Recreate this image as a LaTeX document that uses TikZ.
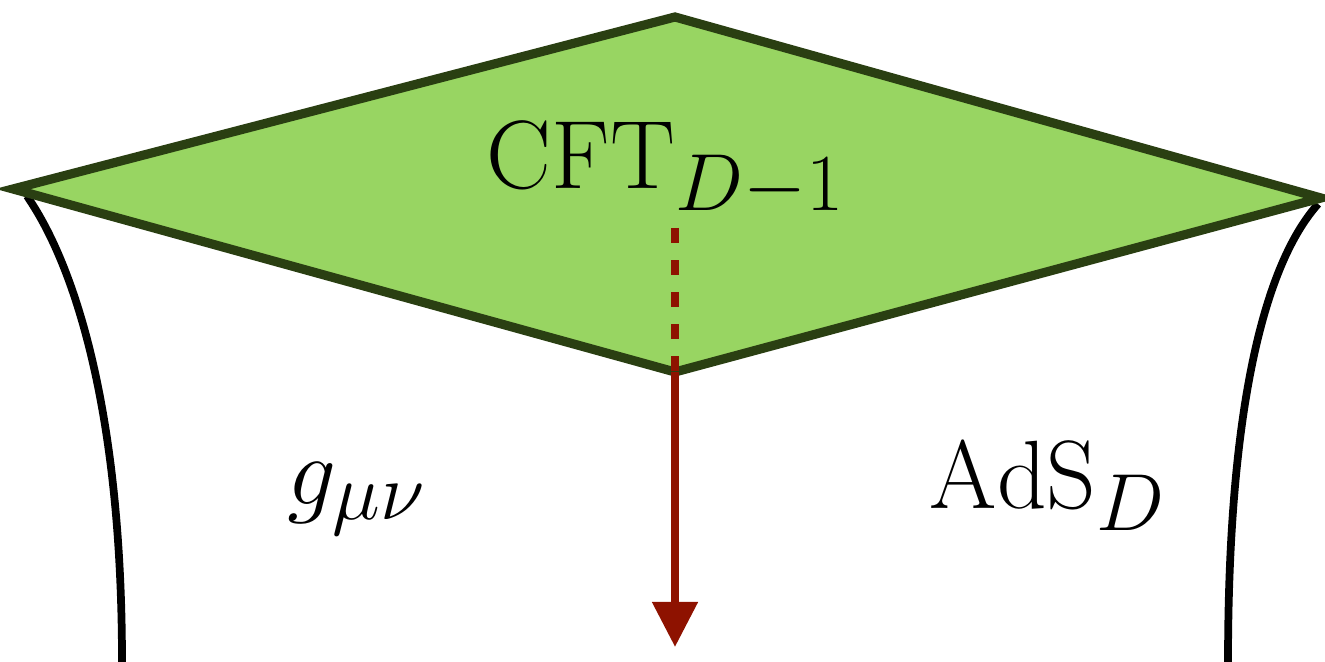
\documentclass[tikz,border=0pt]{standalone}
\usepackage{amsmath,amssymb}
\usepackage{tikz}
\usepackage{xcolor}
\usetikzlibrary{arrows.meta,calc}
\definecolor{BoundaryGreen}{HTML}{98D562}
\definecolor{BoundaryEdge}{HTML}{2A3F12}
\definecolor{FlowRed}{HTML}{8E1200}
\tikzset{
    % Boundary sheet style
    boundarysheet/.style={
        fill=BoundaryGreen,
        draw=BoundaryEdge,
        line width=2.6pt,
        line join=miter
    },
    % Bulk wall style
    bulkwall/.style={
        draw=black,
        line width=2.2pt
    },
    % Radial flow arrow
    flowarrow/.style={
        -{Triangle[length=0.45cm,width=0.44cm]},
        line width=2.3pt,
        draw=FlowRed,
        color=FlowRed
    },
    % Hidden part of the flow
    flowdash/.style={
        line width=2.3pt,
        draw=FlowRed,
        dash pattern=on 0.15cm off 0.17cm
    },
    % Labels
    biglabel/.style={
        font=\fontsize{24.88}{30}\selectfont,
        scale=1.11, transform shape,
        anchor=base,
        inner sep=0pt
    }
}
\begin{document}
\begin{tikzpicture}[x={(0.01cm,0)}, y={(0,-0.01cm)}]
        \useasboundingbox (0,0) rectangle (1325,662);

        % Corners of the boundary
        \coordinate (top) at (675,17);
        \coordinate (left) at (13,189);
        \coordinate (right) at (1321,198);
        \coordinate (bottom) at (675,372);
        \coordinate (tip) at (675,647);

        % Bulk walls
        \draw[bulkwall] (27,196) .. controls (40,216) and (122,330) .. (122,662);
        \draw[bulkwall] (1318,204) .. controls (1290,236) and (1228,330) .. (1228,662);

        % Boundary sheet
        \draw[boundarysheet] (top) -- (right) -- (bottom) -- (left) -- cycle;

        % Labels
        \node[biglabel] (cft) at (666,189) {$\mathrm{CFT}_{D-1}$};
        \node[biglabel] (metric) at (357,505) {$g_{\mu\nu}$};
        \node[biglabel] (ads) at (1048,509) {$\mathrm{AdS}_D$};

        % Radial direction
        \coordinate (dashstart) at (675,228);
        \draw[flowdash] (dashstart) -- (bottom);
        \draw[flowarrow] (bottom) -- (tip);
    \end{tikzpicture}
\end{document}
